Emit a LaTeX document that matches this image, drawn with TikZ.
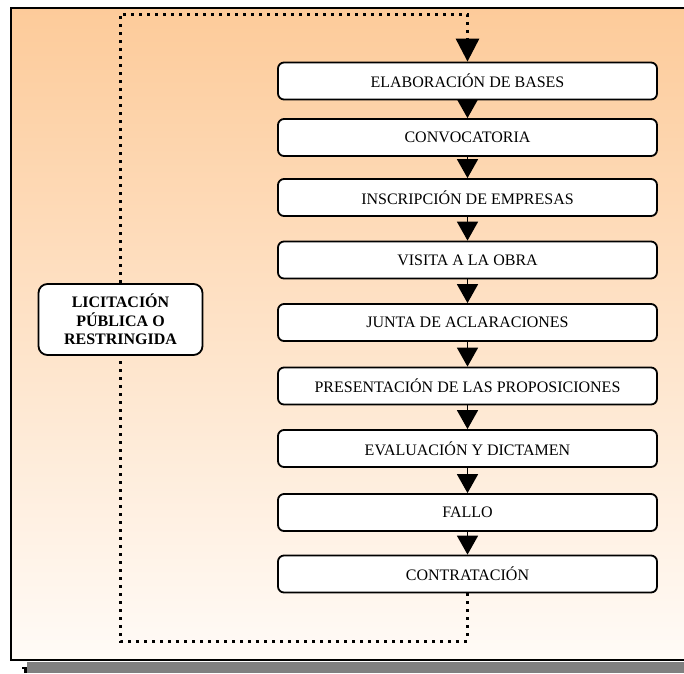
\documentclass[tikz,border=0pt]{standalone}
\usepackage{fontspec}
\setmainfont{Liberation Serif}
\usetikzlibrary{arrows.meta}
\definecolor{peachtop}{RGB}{253,203,154}
\definecolor{peachbot}{RGB}{255,251,247}
\definecolor{bandgray}{RGB}{128,128,128}
\begin{document}
\begin{tikzpicture}[x=1pt,y=-1pt,
  stepbox/.style={draw, line width=1.8pt, rounded corners=6pt, fill=white,
    minimum width=379pt, minimum height=37pt, inner sep=0pt,
    font=\fontsize{16}{18}\selectfont},
  sidebox/.style={draw, line width=1.8pt, rounded corners=9pt, fill=white,
    minimum width=164pt, minimum height=71pt, inner sep=0pt, align=center,
    font=\fontsize{16}{18.5}\selectfont\bfseries},
  flow/.style={line width=1.6pt, -{Triangle[width=21pt,length=19pt]}},
  loopline/.style={line width=3pt, dash pattern=on 3pt off 5pt},
]
\useasboundingbox (0,0) rectangle (684,673);
\clip (0,0) rectangle (684,673);
\fill[white] (0,0) rectangle (684,673);

% background panel with its shadow band
\fill[bandgray] (27,662) rectangle (700,673);
\shade[top color=peachtop, bottom color=peachbot] (11,8) rectangle (700,660);
\draw[line width=2.2pt] (700,8) -- (11,8) -- (11,660) -- (700,660);
% fragment of a glyph under the panel
\fill (24,667) rectangle (26.8,673);
\fill (21.8,667) rectangle (24.5,668.6);

% process steps
\node[stepbox] (b1) at (467.5,81)    {ELABORACIÓN DE BASES};
\node[stepbox] (b2) at (467.5,137.5) {CONVOCATORIA};
\node[stepbox] (b3) at (467.5,197.5) {INSCRIPCIÓN DE EMPRESAS};
\node[stepbox] (b4) at (467.5,260)   {VISITA A LA OBRA};
\node[stepbox] (b5) at (467.5,322.5) {JUNTA DE ACLARACIONES};
\node[stepbox] (b6) at (467.5,386)   {PRESENTACIÓN DE LAS PROPOSICIONES};
\node[stepbox] (b7) at (467.5,448.5) {EVALUACIÓN Y DICTAMEN};
\node[stepbox] (b8) at (467.5,512.5) {FALLO};
\node[stepbox] (b9) at (467.5,574)   {CONTRATACIÓN};

\foreach \a/\b in {b1/b2,b2/b3,b3/b4,b4/b5,b5/b6,b6/b7,b7/b8,b8/b9}
  \draw[flow] (\a.south) -- (\b.north);

% procedure label on the return loop
\node[sidebox] (lic) at (120.5,319.5) {LICITACIÓN\\PÚBLICA O\\RESTRINGIDA};
\coordinate (looptop) at (300,14);
\coordinate (loopbot) at (300,641);
\draw[loopline] (b9.south) |- (loopbot) -| (lic.south);
\draw[loopline, -{Triangle[width=23pt,length=23pt]}] (lic.north) |- (looptop) -| (b1.north);
\end{tikzpicture}
\end{document}
